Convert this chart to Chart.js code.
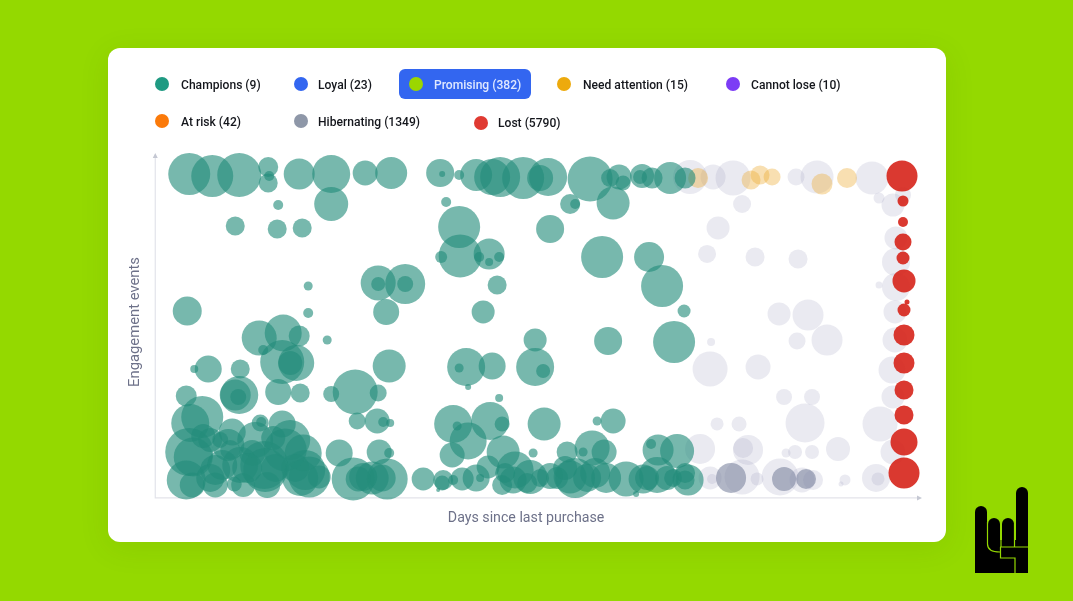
<!DOCTYPE html>
<html>
<head>
<meta charset="utf-8">
<script src="https://cdn.jsdelivr.net/npm/chart.js@4"></script>
<style>
html, body { margin: 0; padding: 0; width: 1073px; height: 601px; overflow: hidden; background: #94d900; font-family: Roboto, sans-serif; }
#card { position: absolute; left: 108px; top: 48px; width: 838px; height: 494px; background: #fff; border-radius: 12px; box-shadow: 0 6px 30px rgba(60, 90, 0, .1); }
#pill { position: absolute; left: 399px; top: 69px; width: 132px; height: 30px; background: #3366f0; border-radius: 6px; }
#chart { position: absolute; left: 0; top: 0; filter: blur(0.5px); }
#legend { filter: blur(0.3px); }
.dot { position: absolute; width: 14px; height: 14px; border-radius: 50%; }
.name { position: absolute; font-size: 12.1px; font-weight: 500; line-height: 16px; color: #14161c; white-space: nowrap; }
#logo { position: absolute; left: 0; top: 0; }
</style>
</head>
<body>
<div id="card"></div>
<div id="pill"></div>
<canvas id="chart" width="1073" height="601"></canvas>
<div id="legend"></div>
<svg id="logo" width="1073" height="601" viewBox="0 0 1073 601">
  <g fill="#000">
    <path d="M975 573V512a6 6 0 0 1 12 0V573Z"/>
    <path d="M1016 573V493a6 6 0 0 1 12 0V573Z"/>
    <path d="M988 573V524a6 6 0 0 1 12 0V573Z"/>
    <path d="M1002 573V524a6 6 0 0 1 12 0V573Z"/>
    <rect x="985" y="540" width="35" height="33"/>
  </g>
  <path d="M987.500 522V544q0 8 12.500 8M1000 547H1028M1000.500 547V558H1015V573M1001 524V547M1014.500 524V547" fill="none" stroke="#94d900" stroke-width="1.200"/>
</svg>
<script>
// each point is [days since last purchase, engagement events, bubble size]
const champions = [
  [34,324,21],[57,322,21],[84,323,22],[113,331,10],[113,315,9.5],[114,322,5],[144,324,15.5],[176,324,19],
  [176,294,17],[123,293,5],[80,272,9.5],[122,269,9.5],[147,270,9.5],[210,325,12.5],[236,325,16],[285,325,14],
  [287,324,3],[304,323,5],[321,323,16],[337,321,18],[345,321,20],[368,320,21],[385,320,13],[393,321,19],
  [291,296,5],[304,271,21],[305,242,21.5],[334,244,15.5],[286,241,6],[324,241,5],[344,241,5],[334,236,4],
  [342,213,9.5],[328,186,11.5],[223,215,17.5],[223,214,7],[250,214,20],[250,214,8],[153,212,4.5],[231,186,13],
  [32,187,14.5],[395,269,14],[415,294,10],[420,294,5],[435,319,22.5],[455,320,9],[464,321,12.5],[468,315,7.5],
  [458,295,16.5],[487,322,12],[485,321,7],[497,320,10.5],[515,320,16],[530,320,10.5],[447,241,21],[494,241,15],
  [507,212,21],[529,187,6.5],[519,156,21],[453,157,14],[380,158,11.5],[380,131,19],[388,127,7],[389,74,16.5],
  [458,77,12.5],[442,77,4.5],[437,50,17.5],[449,46,12.5],[412,46,10.5],[428,46,4.5],[378,45,4.5],[503,48,15.5],
  [522,47,17],[496,54,5],[375,21,17],[385,20,9],[402,20,11],[420,20,20],[415,21,16.5],[432,20,14],
  [451,20,15],[471,19,17.5],[488,19,14.5],[492,20,12],[502,23,18],[512,20,12],[518,20,9],[533,18,15.5],
  [530,18,9.5],[481,4,3],[153,185,5],[172,158,4.5],[104,160,17.5],[128,165,18.5],[144,162,10.5],[127,136,22],
  [141,135,18],[135,135,12],[108,148,5],[53,129,13.5],[39,129,4],[85,129,9.5],[84,103,19],[80,103,15.5],
  [83,101,8],[123,106,13],[145,105,9.5],[31,102,10.5],[47,81,21],[35,75,19],[105,75,8.5],[106,76,5],
  [127,74,13.5],[77,66,13.5],[34,46,24],[38,41,19.5],[60,28,15],[31,18,19.5],[37,13,12.5],[60,13,12.5],
  [75,48,10],[55,58,12],[65,58,8],[97,45,13],[109,33,24],[88,13,12],[79,14,7.5],[112,13,13],
  [130,48,21.5],[148,45,18.5],[154,21,20.5],[164,21,11.5],[184,45,13.5],[200,106,22.5],[223,105,8.5],[176,104,8],
  [234,132,16.5],[202,77,8.5],[222,77,12.5],[228,76,5],[235,75,4],[224,46,12.5],[234,45,5],[198,19,21.5],
  [203,19,12.5],[217,20,16.5],[232,19,20.5],[227,20,13.5],[268,19,11.5],[288,18,10],[287,15,7.5],[307,19,11.5],
  [321,20,13.5],[298,18,5],[283,8,2],[311,131,19],[304,130,4.5],[337,132,13.5],[313,111,3],[344,100,4],
  [298,74,19],[335,77,19],[313,57,18.5],[347,74,7.5],[302,72,4.5],[297,43,12.5],[348,46,16.5],[333,31,11.5],
  [360,28,18.5],[358,18,13.5],[347,13,10],[372,15,10],[325,20,4],
  [100,58,18],[73,53,16],[135,58,20],[150,28,20],[145,20,18],[110,28,22],[85,33,18],[55,20,14],[67,33,15],
  [92,30,15],[120,30,14],[140,30,14],[118,60,12],[48,62,12],
  [208,21,14],[530,25,10],[395,22,13],[440,25,15],[410,30,12],[350,25,10]
];
const needAttention = [[543,320,10],[596,318,9.5],[605,323,9.5],[617,321,8.5],[667,314,10.5],[692,320,10]];
const hibernating = [
  [535,321,17],[558,321,12.5],[578,320,17.5],[587,294,9],[563,270,11.5],[552,244,9],[600,241,9.5],[643,239,9.5],
  [641,321,8.5],[717,320,16.5],[724,300,5.5],[738,293,11.5],[748,303,8],[741,260,11.5],[741,236,14],[741,211,14],
  [724,213,3.5],[662,321,16.5],[624,184,11.5],[653,183,15.5],[672,158,15.5],[642,157,8.5],[556,156,4],[555,129,17.5],
  [603,131,12.5],[629,101,8],[657,101,8],[650,75,19.5],[562,74,6.5],[584,74,7.5],[545,49,15],[593,48,15],
  [588,50,10],[640,46,7],[631,45,4.5],[657,46,7],[683,49,12],[725,74,17.5],[738,46,12.5],[738,101,11.5],
  [737,128,13.5],[740,158,12.5],[740,186,11.5],[555,20,11.5],[557,19,5],[587,21,17.5],[602,19,6.5],[625,21,18.5],
  [647,18,12.5],[658,18,10],[690,18,5.5],[686,14,2.5],[721,20,14],[723,19,6.5]
];
const hibernatingDense = [[576,20,15],[629,19,12],[651,19,10]];
const lost = [
  [747,322,15.5],[748,297,5.5],[748,276,5],[748,256,8.5],[748,240,6.5],[749,217,11.5],[752,196,2.5],
  [749,188,6.5],[749,163,10.5],[749,135,10.5],[749,108,9.5],[749,83,9.5],[749,56,13.5],[749,25,15.5]
];

const legendNames = ['Champions (9)', 'Loyal (23)', 'Promising (382)', 'Need attention (15)', 'Cannot lose (10)', 'At risk (42)', 'Hibernating (1349)', 'Lost (5790)'];
const legendColors = ['#1f9a82', '#3366f0', '#9bd600', '#edaa0d', '#7c3cf5', '#fb7a0a', '#8e97a8', '#e03a32'];
const legendDots = [[155,77],[294,77],[409,77],[557,77],[726,77],[155,114],[294,114],[474,116]];
const legendText = [181,318,434,583,751,181,318,498];
const legendTop = [77,77,77,77,77,114,114,115];

const legend = document.getElementById('legend');
legendNames.forEach(function (name, i) {
    const dot = document.createElement('div');
    dot.className = 'dot';
    dot.style.left = legendDots[i][0] + 'px';
    dot.style.top = legendDots[i][1] + 'px';
    dot.style.background = legendColors[i];
    legend.appendChild(dot);
    const label = document.createElement('div');
    label.className = 'name';
    label.textContent = name;
    label.style.left = legendText[i] + 'px';
    label.style.top = legendTop[i] + 'px';
    if (i === 2) label.style.color = '#dfe8ff';
    legend.appendChild(label);
});

function toPoints(list) {
    return list.map(function (p) { return { x: p[0], y: p[1], r: p[2] }; });
}

// plain arrows for the two axes
const arrowAxes = {
    id: 'arrowAxes',
    beforeDatasetsDraw: function (chart) {
        const a = chart.chartArea;
        const ctx = chart.ctx;
        const endX = a.right;
        const endY = a.top + 11;
        ctx.save();
        ctx.strokeStyle = '#e3e4ea';
        ctx.fillStyle = '#c5c8d3';
        ctx.lineWidth = 1.2;
        ctx.beginPath();
        ctx.moveTo(a.left, endY);
        ctx.lineTo(a.left, a.bottom);
        ctx.lineTo(endX, a.bottom);
        ctx.stroke();
        ctx.beginPath();
        ctx.moveTo(endX + 4, a.bottom);
        ctx.lineTo(endX - 1, a.bottom - 2.5);
        ctx.lineTo(endX - 1, a.bottom + 2.5);
        ctx.closePath();
        ctx.moveTo(a.left, endY - 4);
        ctx.lineTo(a.left - 2.5, endY + 1);
        ctx.lineTo(a.left + 2.5, endY + 1);
        ctx.closePath();
        ctx.fill();
        ctx.restore();
    }
};

new Chart(document.getElementById('chart'), {
    type: 'bubble',
    data: {
        datasets: [
            { label: 'Lost', data: toPoints(lost), backgroundColor: 'rgba(215,40,30,0.92)' },
            { label: 'Champions', data: toPoints(champions), backgroundColor: 'rgba(35,140,122,0.62)' },
            { label: 'Need attention', data: toPoints(needAttention), backgroundColor: 'rgba(236,170,50,0.38)' },
            { label: 'Hibernating dense', data: toPoints(hibernatingDense), backgroundColor: 'rgba(125,133,160,0.6)' },
            { label: 'Hibernating', data: toPoints(hibernating), backgroundColor: 'rgba(150,150,185,0.2)' }
        ]
    },
    options: {
        responsive: false,
        animation: false,
        clip: false,
        layout: { padding: { left: 126, right: 155, top: 146, bottom: 74 } },
        elements: { point: { borderWidth: 0, hoverBorderWidth: 0 } },
        plugins: { legend: { display: false }, tooltip: { enabled: false } },
        scales: {
            x: {
                min: 0,
                max: 763,
                grid: { display: false, drawTicks: false },
                border: { display: false },
                ticks: { display: false },
                // the trailing spaces pull the centred title left, the picture has it off-centre
                title: { display: true, text: 'Days since last purchase' + '\u00a0'.repeat(6), color: '#6d7189', font: { family: 'Roboto', size: 14.2 }, padding: { top: 12, bottom: 0 } }
            },
            y: {
                min: 0,
                max: 352,
                grid: { display: false, drawTicks: false },
                border: { display: false },
                ticks: { display: false },
                title: { display: true, text: 'Engagement events', color: '#6d7189', font: { family: 'Roboto', size: 14.8 }, padding: { top: 0, bottom: 11.5 } }
            }
        }
    },
    plugins: [arrowAxes]
});
</script>
</body>
</html>
